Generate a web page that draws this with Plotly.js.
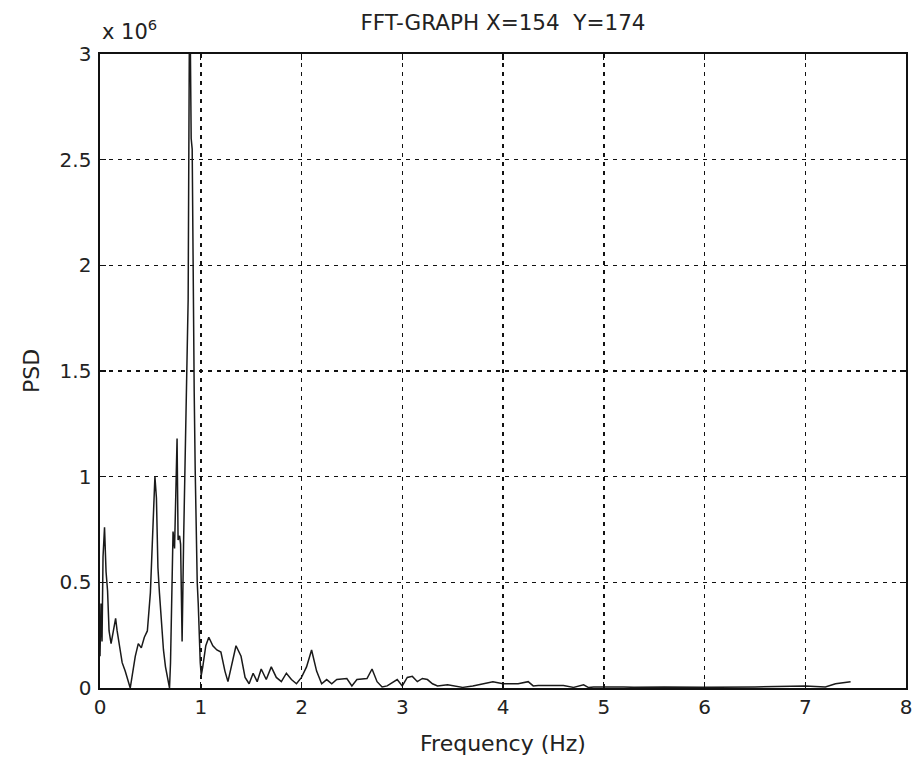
<!DOCTYPE html>
<html>
<head>
<meta charset="utf-8">
<script src="https://cdn.plot.ly/plotly-3.0.1.min.js"></script>
<style>html,body{margin:0;padding:0;background:#fff;}#chart{width:916px;height:760px;}</style>
</head>
<body>
<div id="chart"></div>
<script>
// Frequency (Hz)
const freqHz = [
  0.00, 0.01, 0.02, 0.03, 0.045, 0.06, 0.075, 0.09, 0.11, 0.13, 0.155, 0.17, 0.19, 0.22, 0.25, 0.28,
  0.30, 0.32, 0.35, 0.38, 0.41, 0.44, 0.47, 0.50, 0.52, 0.545, 0.56, 0.575, 0.59, 0.61, 0.63, 0.65,
  0.67, 0.69, 0.70, 0.71, 0.725, 0.74, 0.765, 0.775, 0.79, 0.80, 0.815, 0.83, 0.845, 0.86, 0.875,
  0.89, 0.905, 0.915, 0.925, 0.935, 0.945, 0.955, 0.965, 0.975, 0.985, 0.995, 1.005, 1.02,
  1.05, 1.08, 1.12, 1.16, 1.20, 1.24, 1.27, 1.30, 1.35, 1.40, 1.44, 1.48, 1.52, 1.56, 1.60, 1.65,
  1.70, 1.75, 1.80, 1.85, 1.90, 1.95, 2.00, 2.05, 2.10, 2.15, 2.20, 2.25, 2.30, 2.35, 2.45, 2.50,
  2.55, 2.65, 2.70, 2.75, 2.80, 2.85, 2.95, 3.00, 3.05, 3.10, 3.15, 3.20, 3.25, 3.30, 3.35, 3.45,
  3.55, 3.60, 3.70, 3.90, 4.00, 4.05, 4.15, 4.25, 4.30, 4.35, 4.40, 4.50, 4.60, 4.70, 4.80, 4.85,
  4.90, 5.20, 5.30, 5.60, 5.90, 6.00, 6.50, 7.00, 7.20, 7.30, 7.45, 7.50
];
// PSD in units of 10^6
const psdMillions = [
  0.15, 0.40, 0.22, 0.62, 0.76, 0.55, 0.46, 0.27, 0.21, 0.26, 0.33, 0.27, 0.20, 0.12, 0.08, 0.03,
  0.00, 0.06, 0.15, 0.21, 0.19, 0.24, 0.27, 0.45, 0.68, 1.00, 0.90, 0.57, 0.45, 0.29, 0.18, 0.10,
  0.04, 0.00, 0.12, 0.43, 0.74, 0.66, 1.18, 0.70, 0.72, 0.68, 0.22, 0.70, 1.10, 1.62, 1.84,
  3.40, 2.60, 2.55, 1.84, 1.40, 1.03, 0.72, 0.50, 0.40, 0.24, 0.12, 0.06, 0.10,
  0.20, 0.24, 0.20, 0.18, 0.17, 0.08, 0.03, 0.10, 0.20, 0.15, 0.05, 0.02, 0.07, 0.03, 0.09,
  0.04, 0.10, 0.05, 0.03, 0.07, 0.04, 0.02, 0.05, 0.10, 0.18, 0.08, 0.02, 0.04, 0.02, 0.04, 0.045,
  0.01, 0.04, 0.045, 0.09, 0.03, 0.005, 0.01, 0.04, 0.01, 0.05, 0.055, 0.03, 0.045, 0.04, 0.02, 0.01,
  0.015, 0.005, 0.003, 0.01, 0.03, 0.02, 0.02, 0.02, 0.03, 0.01, 0.012, 0.012, 0.012, 0.012, 0.003, 0.015,
  0.002, 0.005, 0.005, 0.003, 0.005, 0.004, 0.003, 0.005, 0.01, 0.005, 0.02, 0.03
];
const xTicks = [0, 1, 2, 3, 4, 5, 6, 7, 8];
const xTickText = ['0', '1', '2', '3', '4', '5', '6', '7', '8'];
const yTicks = [0, 0.5, 1, 1.5, 2, 2.5, 3];
const yTickText = ['0', '0.5', '1', '1.5', '2', '2.5', '3'];

const fam = 'DejaVu Sans, Liberation Sans, sans-serif';
const tickFont = {family: fam, size: 20, color: '#222'};
const titleFont = {family: fam, size: 22, color: '#222'};

const trace = {
  x: freqHz, y: psdMillions, type: 'scatter', mode: 'lines',
  line: {color: '#1a1a1a', width: 1.5},
  hoverinfo: 'none'
};

const axisCommon = {
  showline: true, mirror: 'ticks', linecolor: '#111', linewidth: 1.6,
  ticks: 'inside', ticklen: 6, tickcolor: '#111', tickwidth: 1.2,
  showgrid: true, gridcolor: '#111', gridwidth: 1.5, griddash: '4px,5px',
  zeroline: false, tickfont: tickFont
};

const layout = {
  width: 916, height: 760,
  paper_bgcolor: '#fff', plot_bgcolor: '#fff',
  margin: {l: 100, r: 10, t: 54, b: 72},
  showlegend: false,
  title: {text: 'FFT-GRAPH X=154  Y=174', font: {family: fam, size: 21.5, color: '#222'},
          xref: 'paper', x: 0.5, xanchor: 'center', yref: 'container', y: 0.971, yanchor: 'middle'},
  xaxis: Object.assign({}, axisCommon, {
    range: [0, 8], tickvals: xTicks, ticktext: xTickText,
    title: {text: 'Frequency (Hz)', font: titleFont, standoff: 18}
  }),
  yaxis: Object.assign({}, axisCommon, {
    range: [0, 3], tickvals: yTicks, ticktext: yTickText, ticklabelstandoff: 3,
    title: {text: 'PSD', font: titleFont, standoff: 14}
  }),
  annotations: [{
    xref: 'paper', yref: 'paper', x: 0, y: 1, xanchor: 'left', yanchor: 'middle',
    yshift: 24, text: 'x 10<sup>6</sup>', showarrow: false,
    font: {family: fam, size: 21, color: '#222'}
  }]
};

Plotly.newPlot('chart', [trace], layout, {displayModeBar: false, staticPlot: true});
</script>
</body>
</html>
